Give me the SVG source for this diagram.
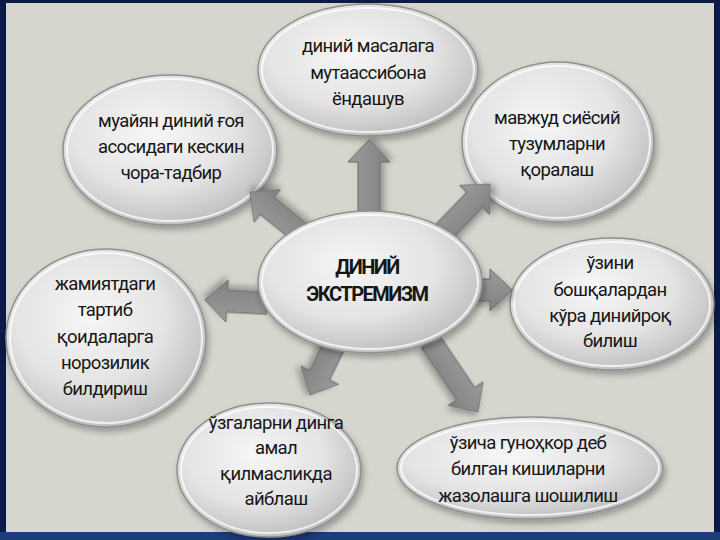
<svg xmlns="http://www.w3.org/2000/svg" width="720" height="540" viewBox="0 0 720 540">
<defs>
<radialGradient id="g" cx="0.42" cy="0.38" r="0.68">
<stop offset="0" stop-color="#f6f6f6"/>
<stop offset="0.55" stop-color="#e4e4e4"/>
<stop offset="1" stop-color="#b9b9b9"/>
</radialGradient>
<linearGradient id="ag" x1="0" y1="0" x2="0" y2="1">
<stop offset="0" stop-color="#9c9c9c"/>
<stop offset="1" stop-color="#808080"/>
</linearGradient>
<filter id="sh" x="-20%" y="-20%" width="140%" height="140%">
<feDropShadow dx="2" dy="4" stdDeviation="3" flood-color="#000" flood-opacity="0.3"/>
</filter>
</defs>
<style>
.bg{fill:#0b1a48}
.panel{fill:#d7d6ce}
.node ellipse.o{fill:url(#g);stroke:#8f8f8f;stroke-width:1.5;filter:url(#sh)}
.node ellipse.r{fill:none;stroke:#ffffff;stroke-opacity:0.75;stroke-width:2}
.t{font-family:Roboto,"Noto Sans","DejaVu Sans",sans-serif;font-size:18.5px;letter-spacing:-0.6px;fill:#161616;text-anchor:middle}
.b{font-weight:bold;font-size:20px;letter-spacing:-1.5px}
.a{fill:url(#ag);stroke:#6a6a6a;stroke-width:1;stroke-linejoin:miter;filter:url(#sh)}
</style>
<rect class="bg" x="0" y="0" width="720" height="540"/>
<rect x="0" y="532" width="720" height="8" fill="#1d3c7e"/>
<rect class="panel" x="6" y="3" width="708" height="529"/>

<g id="n-top" class="node">
<ellipse class="o" cx="368" cy="70" rx="110" ry="66"/>
<ellipse class="r" cx="368" cy="70" rx="106" ry="62"/>
<text class="t" x="368" y="52">диний масалага</text>
<text class="t" x="368" y="79">мутаассибона</text>
<text class="t" x="368" y="105">ёндашув</text>
</g>
<g id="n-topright" class="node">
<ellipse class="o" cx="558" cy="142" rx="96" ry="80"/>
<ellipse class="r" cx="558" cy="142" rx="92" ry="76"/>
<text class="t" x="557" y="124">мавжуд сиёсий</text>
<text class="t" x="557" y="150">тузумларни</text>
<text class="t" x="557" y="176">қоралаш</text>
</g>
<g id="n-topleft" class="node">
<ellipse class="o" cx="170" cy="150" rx="107" ry="75"/>
<ellipse class="r" cx="170" cy="150" rx="103" ry="71"/>
<text class="t" x="171" y="127">муайян диний ғоя</text>
<text class="t" x="171" y="153">асосидаги кескин</text>
<text class="t" x="171" y="179">чора-тадбир</text>
</g>
<g id="n-left" class="node">
<ellipse class="o" cx="106" cy="338" rx="100" ry="89"/>
<ellipse class="r" cx="106" cy="338" rx="96" ry="85"/>
<text class="t" x="105" y="290">жамиятдаги</text>
<text class="t" x="105" y="316">тартиб</text>
<text class="t" x="105" y="343">қоидаларга</text>
<text class="t" x="105" y="369">норозилик</text>
<text class="t" x="105" y="395">билдириш</text>
</g>
<g id="n-right" class="node">
<ellipse class="o" cx="612" cy="304" rx="102" ry="66"/>
<ellipse class="r" cx="612" cy="304" rx="98" ry="62"/>
<text class="t" x="610" y="269">ўзини</text>
<text class="t" x="610" y="296">бошқалардан</text>
<text class="t" x="610" y="322">кўра динийроқ</text>
<text class="t" x="610" y="347">билиш</text>
</g>
<g id="n-bottomleft" class="node">
<ellipse class="o" cx="269" cy="470" rx="92" ry="67"/>
<ellipse class="r" cx="269" cy="470" rx="88" ry="63"/>
<text class="t" x="276" y="429">ўзгаларни динга</text>
<text class="t" x="276" y="454">амал</text>
<text class="t" x="276" y="480">қилмасликда</text>
<text class="t" x="276" y="505">айблаш</text>
</g>
<g id="n-bottomright" class="node">
<ellipse class="o" cx="530" cy="468" rx="133" ry="51"/>
<ellipse class="r" cx="530" cy="468" rx="129" ry="47"/>
<text class="t" x="528" y="449">ўзича гуноҳкор деб</text>
<text class="t" x="528" y="475">билган кишиларни</text>
<text class="t" x="528" y="502">жазолашга шошилиш</text>
</g>

<g id="connectors">
<polygon class="a" transform="translate(369,140) rotate(-90)" points="0,0 -22,-21 -22,-11 -85,-11 -85,11 -22,11 -22,21"/>
<polygon class="a" transform="translate(250,192) rotate(-141)" points="0,0 -22,-21 -22,-11 -70,-11 -70,11 -22,11 -22,21"/>
<polygon class="a" transform="translate(490,184) rotate(-46)" points="0,0 -22,-21 -22,-11 -72,-11 -72,11 -22,11 -22,21"/>
<polygon class="a" transform="translate(205,300) rotate(183)" points="0,0 -22,-21 -22,-11 -62,-11 -62,11 -22,11 -22,21"/>
<polygon class="a" transform="translate(512,290) rotate(0)" points="0,0 -22,-21 -22,-11 -45,-11 -45,11 -22,11 -22,21"/>
<polygon class="a" transform="translate(310,395) rotate(116)" points="0,0 -22,-21 -22,-11 -68,-11 -68,11 -22,11 -22,21"/>
<polygon class="a" transform="translate(478,412) rotate(56)" points="0,0 -22,-21 -22,-11 -85,-11 -85,11 -22,11 -22,21"/>
</g>

<g id="n-center" class="node">
<ellipse class="o" cx="370" cy="282" rx="112" ry="71"/>
<ellipse class="r" cx="370" cy="282" rx="108" ry="67"/>
<text class="t b" x="367" y="274">ДИНИЙ</text>
<text class="t b" x="367" y="301">ЭКСТРЕМИЗМ</text>
</g>
</svg>
